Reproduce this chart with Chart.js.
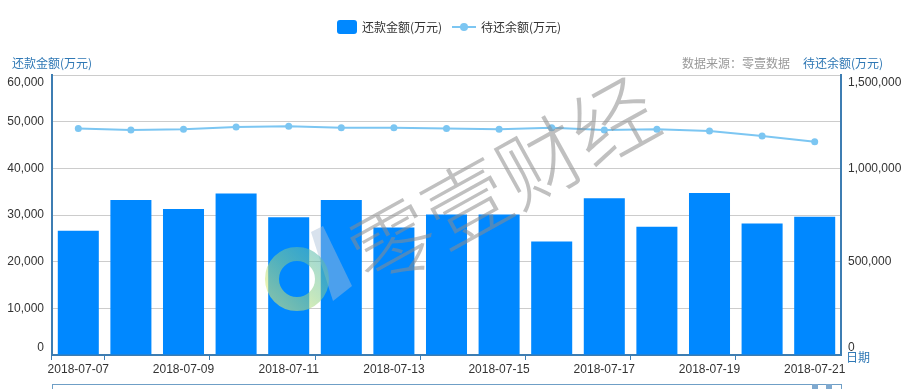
<!DOCTYPE html>
<html lang="zh-CN">
<head>
<meta charset="utf-8">
<title>还款金额 / 待还余额</title>
<script src="https://cdn.jsdelivr.net/npm/chart.js@4/dist/chart.umd.min.js"></script>
<style>
    html, body { margin: 0; padding: 0; background: #ffffff; }
    #wrap { width: 910px; height: 389px; position: relative; }
</style>
</head>
<body>
<div id="wrap"><canvas id="mainChart" width="910" height="389"></canvas></div>
<script>
// =============================================
// DADOS
// =============================================
const dates = [
    '2018-07-07', '2018-07-08', '2018-07-09', '2018-07-10', '2018-07-11',
    '2018-07-12', '2018-07-13', '2018-07-14', '2018-07-15', '2018-07-16',
    '2018-07-17', '2018-07-18', '2018-07-19', '2018-07-20', '2018-07-21'
];
// 还款金额(万元)
const repayAmounts = [26600, 33200, 31300, 34600, 29500, 33200, 27300, 30100, 30100, 24300, 33600, 27500, 34700, 28200, 29600];
// 待还余额(万元)
const outstanding = [1214000, 1205000, 1209000, 1221000, 1225000, 1218000, 1218000, 1214000, 1209000, 1218000, 1205000, 1209000, 1200000, 1173000, 1143000];

const leftTicks = { min: 0, max: 60000, step: 10000 };
const rightTicks = { min: 0, max: 1500000, step: 500000 };

// =============================================
// CONFIG
// =============================================
const COLORS = {
    bar: '#0088ff',
    line: '#7cc6f2',
    axis: '#3d7db2',
    axisName: '#2f78b5',
    grid: '#cccccc',
    text: '#333333',
    source: '#999999'
};
const FONT_LATIN = "'Liberation Sans', Arial, sans-serif";
const FONT_CJK = "'Noto Sans CJK SC', 'Noto Sans', sans-serif";

function fmt(v) {
    return Number(v).toLocaleString('en-US');
}

// first/last label pushed inside the plot, like the original
function edgeLabel(value, index, ticks) {
    if (index === ticks.length - 1) return ['', fmt(value)];
    if (index === 0) return [fmt(value), ''];
    return fmt(value);
}

// =============================================
// PLUGIN: legenda, títulos, marca d'água
// =============================================
const decorPlugin = {
    id: 'decor',
    afterDraw(chart) {
        const ctx = chart.ctx;
        const area = chart.chartArea;
        ctx.save();

        // legend
        ctx.textBaseline = 'middle';
        ctx.font = '12px ' + FONT_CJK;
        ctx.fillStyle = COLORS.bar;
        roundRect(ctx, 337, 20, 20, 14, 3);
        ctx.fill();
        ctx.fillStyle = COLORS.text;
        ctx.textAlign = 'left';
        ctx.fillText('还款金额(万元)', 362, 27);

        ctx.strokeStyle = COLORS.line;
        ctx.lineWidth = 2;
        ctx.beginPath();
        ctx.moveTo(452, 27);
        ctx.lineTo(476, 27);
        ctx.stroke();
        ctx.fillStyle = COLORS.line;
        ctx.beginPath();
        ctx.arc(464, 27, 4, 0, Math.PI * 2);
        ctx.fill();
        ctx.fillStyle = COLORS.text;
        ctx.fillText('待还余额(万元)', 481, 27);

        // axis names
        ctx.fillStyle = COLORS.axisName;
        ctx.fillText('还款金额(万元)', 12, 63);
        ctx.textAlign = 'right';
        ctx.fillText('待还余额(万元)', 883, 63);
        ctx.fillStyle = COLORS.source;
        ctx.fillText('数据来源：零壹数据', 790, 63);
        ctx.textAlign = 'left';
        ctx.fillStyle = COLORS.axisName;
        ctx.fillText('日期', area.right + 5, area.bottom + 2);

        // slider (dataZoom) peeking at the bottom
        ctx.strokeStyle = '#6f9fc6';
        ctx.lineWidth = 1;
        ctx.strokeRect(area.left + 0.5, 384.5, area.right - area.left, 12);
        ctx.fillStyle = '#7fa9cf';
        ctx.fillRect(area.right - 29, 384, 6, 6);
        ctx.fillRect(area.right - 15, 384, 6, 6);

        // watermark: logo
        ctx.globalAlpha = 0.45;
        ctx.fillStyle = '#a9bfd6';
        ctx.beginPath();
        ctx.moveTo(311, 232);
        ctx.lineTo(323, 226);
        ctx.lineTo(352, 286);
        ctx.lineTo(333, 301);
        ctx.closePath();
        ctx.fill();
        ctx.globalAlpha = 0.55;
        const grad = ctx.createLinearGradient(270, 300, 320, 250);
        grad.addColorStop(0, '#e8ee6a');
        grad.addColorStop(0.5, '#8fd18a');
        grad.addColorStop(1, '#4fb7b3');
        ctx.strokeStyle = grad;
        ctx.lineWidth = 14;
        ctx.beginPath();
        ctx.arc(297, 279, 25, 0, Math.PI * 2);
        ctx.stroke();

        // watermark: text
        ctx.globalAlpha = 0.55;
        ctx.translate(503, 182);
        ctx.rotate(-29 * Math.PI / 180);
        ctx.fillStyle = '#8c8c8c';
        ctx.font = '300 84px ' + FONT_CJK;
        ctx.textAlign = 'center';
        ctx.fillText('零壹财经', 0, 0);

        ctx.restore();
    }
};

function roundRect(ctx, x, y, w, h, r) {
    ctx.beginPath();
    ctx.moveTo(x + r, y);
    ctx.lineTo(x + w - r, y);
    ctx.quadraticCurveTo(x + w, y, x + w, y + r);
    ctx.lineTo(x + w, y + h - r);
    ctx.quadraticCurveTo(x + w, y + h, x + w - r, y + h);
    ctx.lineTo(x + r, y + h);
    ctx.quadraticCurveTo(x, y + h, x, y + h - r);
    ctx.lineTo(x, y + r);
    ctx.quadraticCurveTo(x, y, x + r, y);
    ctx.closePath();
}

// =============================================
// GRÁFICO
// =============================================
function initChart() {
    const ctx = document.getElementById('mainChart').getContext('2d');
    return new Chart(ctx, {
        type: 'bar',
        data: {
            labels: dates,
            datasets: [
                {
                    type: 'line',
                    label: '待还余额(万元)',
                    data: outstanding,
                    yAxisID: 'y1',
                    borderColor: COLORS.line,
                    backgroundColor: COLORS.line,
                    borderWidth: 2,
                    pointRadius: 3.5,
                    pointBackgroundColor: COLORS.line,
                    pointBorderWidth: 0,
                    tension: 0,
                    order: 0
                },
                {
                    type: 'bar',
                    label: '还款金额(万元)',
                    data: repayAmounts,
                    yAxisID: 'y',
                    backgroundColor: COLORS.bar,
                    borderWidth: 0,
                    categoryPercentage: 1,
                    barPercentage: 0.78,
                    order: 1
                }
            ]
        },
        options: {
            responsive: false,
            devicePixelRatio: 1,
            animation: false,
            layout: { padding: { top: 75, right: 0, bottom: 0, left: 0 } },
            plugins: {
                legend: { display: false },
                tooltip: { enabled: false }
            },
            scales: {
                x: {
                    offset: true,
                    border: { color: COLORS.axis, width: 2 },
                    grid: {
                        offset: true,
                        drawOnChartArea: false,
                        tickLength: 5,
                        color: (c) => (c.index === 0 || c.index % 2 === 1 || c.index >= dates.length) ? COLORS.axis : 'rgba(0,0,0,0)'
                    },
                    ticks: {
                        autoSkip: false,
                        maxRotation: 0,
                        padding: 2,
                        color: COLORS.text,
                        font: { size: 12, family: FONT_LATIN },
                        callback: (v, i) => i % 2 === 0 ? dates[i] : ''
                    },
                    afterFit: (s) => { s.height = 34; }
                },
                y: {
                    position: 'left',
                    min: leftTicks.min,
                    max: leftTicks.max,
                    border: { color: COLORS.axis, width: 2 },
                    grid: { color: COLORS.grid, drawTicks: false },
                    ticks: {
                        stepSize: leftTicks.step,
                        padding: 8,
                        color: COLORS.text,
                        font: { size: 12, family: FONT_LATIN },
                        callback: edgeLabel
                    },
                    afterFit: (s) => { s.width = 52; }
                },
                y1: {
                    position: 'right',
                    min: rightTicks.min,
                    max: rightTicks.max,
                    border: { color: COLORS.axis, width: 2 },
                    grid: { drawOnChartArea: false, drawTicks: false },
                    ticks: {
                        stepSize: rightTicks.step,
                        padding: 7,
                        color: COLORS.text,
                        font: { size: 12, family: FONT_LATIN },
                        callback: edgeLabel
                    },
                    afterFit: (s) => { s.width = 69; }
                }
            }
        },
        plugins: [decorPlugin]
    });
}

document.addEventListener('DOMContentLoaded', initChart);
</script>
</body>
</html>
